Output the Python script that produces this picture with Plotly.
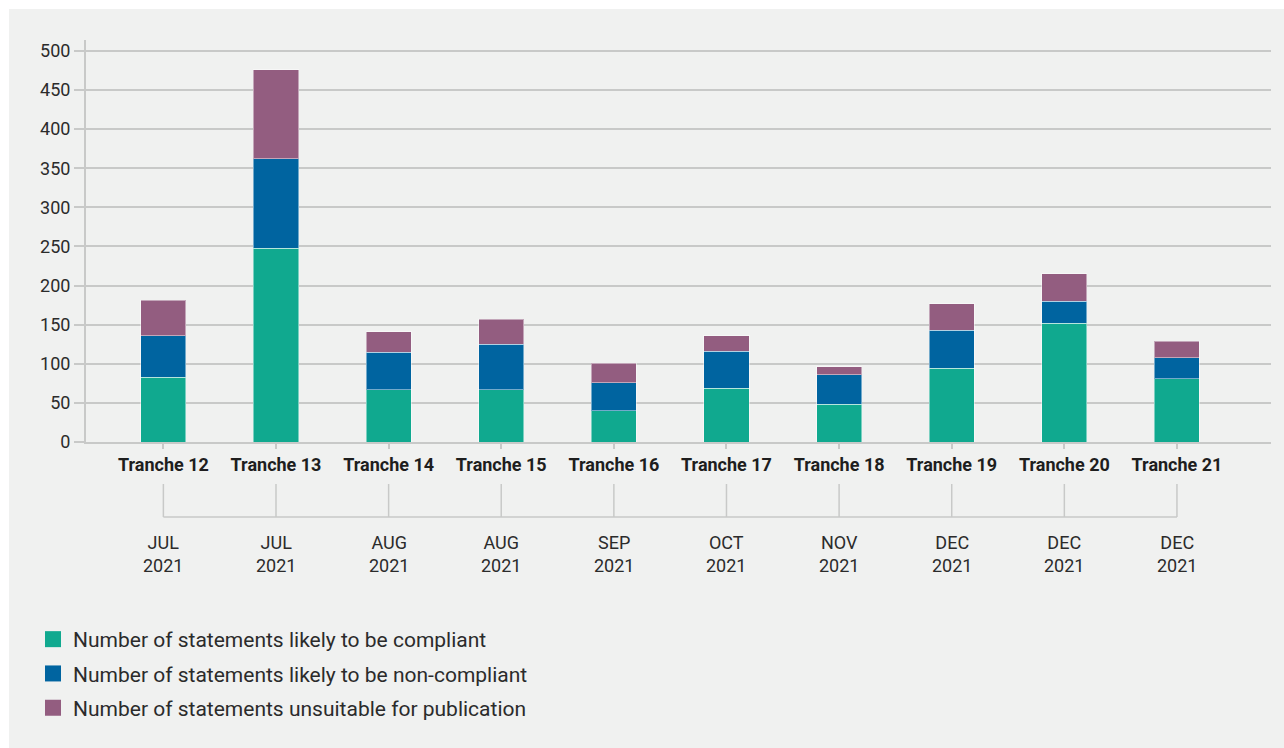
import plotly.graph_objects as go

# Statement outcomes per tranche
tranches = ["Tranche 12", "Tranche 13", "Tranche 14", "Tranche 15", "Tranche 16",
            "Tranche 17", "Tranche 18", "Tranche 19", "Tranche 20", "Tranche 21"]
months = ["JUL", "JUL", "AUG", "AUG", "SEP", "OCT", "NOV", "DEC", "DEC", "DEC"]
years = ["2021"] * 10
compliant = [83, 248, 67, 67, 40, 69, 48, 94, 152, 81]
non_compliant = [53, 114, 48, 58, 36, 47, 38, 49, 28, 27]
unsuitable = [45, 114, 26, 32, 25, 20, 10, 34, 35, 21]
y_ticks = [0, 50, 100, 150, 200, 250, 300, 350, 400, 450, 500]

series = [
    ("Number of statements likely to be compliant", compliant, "#10a98f"),
    ("Number of statements likely to be non-compliant", non_compliant, "#0064a0"),
    ("Number of statements unsuitable for publication", unsuitable, "#935d80"),
]

FONT = "Roboto, Arial, sans-serif"
TEXT = "#2b2b2b"
GRID = "#c8c9c8"
PANEL = "#f0f1f0"

W, H = 1284, 748
L, R, T, B = 86, 13, 40, 306
plot_w = W - L - R
plot_h = H - T - B

fig = go.Figure()
for i, (name, vals, color) in enumerate(series):
    fig.add_trace(go.Bar(
        x=tranches, y=vals, name=name, marker_color=color,
        marker_line=dict(color="rgba(255,255,255,0.45)", width=1),
        legendgroup=f"g{i}", showlegend=False,
        hovertemplate="%{x}: %{y}<extra>" + name + "</extra>",
    ))
    # legend proxy with a larger square swatch
    fig.add_trace(go.Scatter(
        x=[None], y=[None], mode="markers", name=name,
        marker=dict(symbol="square", size=18, color=color),
        legendgroup=f"g{i}", showlegend=True,
    ))

def px_x(px):
    return (px - L) / plot_w

def px_y(py):
    return (H - B - py) / plot_h

shapes = [
    # white border around the grey panel
    dict(type="rect", xref="paper", yref="paper", x0=px_x(0), x1=px_x(W),
         y0=px_y(0), y1=px_y(9), fillcolor="white", line_width=0, layer="below"),
    dict(type="rect", xref="paper", yref="paper", x0=px_x(0), x1=px_x(9),
         y0=px_y(H), y1=px_y(0), fillcolor="white", line_width=0, layer="below"),
    # bracket joining the tranche ticks to the month labels
    dict(type="line", xref="x", yref="paper", x0=tranches[0], x1=tranches[-1],
         y0=px_y(517), y1=px_y(517), line=dict(color=GRID, width=1.5)),
]
for t in tranches:
    shapes.append(dict(type="line", xref="x", yref="paper", x0=t, x1=t,
                       y0=px_y(484), y1=px_y(517), line=dict(color=GRID, width=1.5)))

annotations = []
for t, m, yr in zip(tranches, months, years):
    annotations.append(dict(
        x=t, xref="x", y=px_y(554), yref="paper", yanchor="middle",
        text=f"{m}<br>{yr}", showarrow=False, align="center",
        font=dict(family=FONT, size=18, color=TEXT),
    ))

fig.update_layout(
    width=W, height=H,
    margin=dict(l=L, r=R, t=T, b=B, pad=0, autoexpand=False),
    paper_bgcolor=PANEL, plot_bgcolor=PANEL,
    barmode="stack", bargap=0.6,
    font=dict(family=FONT, color=TEXT),
    shapes=shapes, annotations=annotations,
    legend=dict(
        x=px_x(33), y=px_y(619),
        xanchor="left", yanchor="top", orientation="v",
        font=dict(family=FONT, size=21, color=TEXT),
        bgcolor="rgba(0,0,0,0)", tracegroupgap=4, itemsizing="trace",
    ),
    xaxis=dict(
        type="category", range=[-0.687, 9.835],
        showline=True, linecolor=GRID, linewidth=2,
        ticks="outside", ticklen=5, tickcolor=GRID, tickwidth=1.5,
        tickangle=0,
        tickfont=dict(family=FONT, size=18, color="#1e1e1e", weight="bold"),
        showgrid=False, fixedrange=True,
    ),
    yaxis=dict(
        range=[0, 514], tickvals=y_ticks,
        showline=True, linecolor=GRID, linewidth=2,
        showgrid=True, gridcolor=GRID, gridwidth=1.5,
        zeroline=False,
        ticks="outside", ticklen=10, tickcolor=GRID, tickwidth=1.5,
        tickfont=dict(family=FONT, size=18, color=TEXT),
        fixedrange=True,
    ),
)

fig.write_html("out.html")
